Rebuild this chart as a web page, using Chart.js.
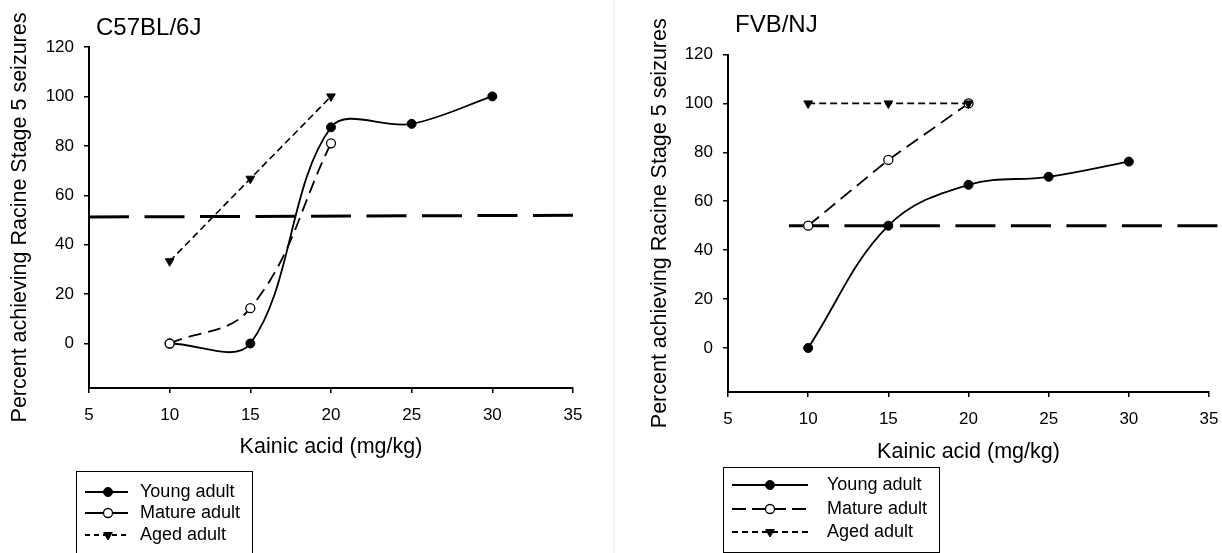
<!DOCTYPE html>
<html>
<head>
<meta charset="utf-8">
<script src="https://cdn.jsdelivr.net/npm/chart.js@4.4.1/dist/chart.umd.min.js"></script>
<style>
  html, body { margin: 0; padding: 0; background: #fff; }
  body { width: 1222px; height: 553px; position: relative; overflow: hidden; }
  #left { position: absolute; left: 0; top: 0; }
  #right { position: absolute; left: 615px; top: 0; }
  .sep { position: absolute; left: 613px; top: 0; width: 2px; height: 553px; background: #f2f2f2; }
</style>
</head>
<body>
<canvas id="left" width="610" height="553" style="width:610px;height:553px"></canvas>
<div class="sep"></div>
<canvas id="right" width="607" height="553" style="width:607px;height:553px"></canvas>
<script>
(() => {
  const FONT = '"Liberation Sans", Arial, Helvetica, sans-serif';

  // shared axes
  const doses = [10, 15, 20, 25, 30];
  const xTicks = [5, 10, 15, 20, 25, 30, 35];
  const yTicks = [0, 20, 40, 60, 80, 100, 120];
  const seriesNames = ["Young adult", "Mature adult", "Aged adult"];

  // C57BL/6J
  const b6Young = [0, 0, 87.5, 88.9, 100];
  const b6Mature = [0, 14.3, 81];
  const b6Aged = [33.3, 66.7, 100];
  const b6HalfX = [5, 35];
  const b6HalfY = [51.2, 51.9];

  // FVB/NJ
  const fvbYoung = [0, 50, 66.7, 70, 76.2];
  const fvbMature = [50, 76.9, 100];
  const fvbAged = [100, 100, 100];
  const fvbHalfX = [8.8, 36];
  const fvbHalfY = [50, 50];

  const pts = (xs, ys) => ys.map((y, i) => ({ x: xs[i], y }));

  Chart.defaults.font.family = FONT;
  Chart.defaults.color = "#000";

  const panelTitle = {
    id: "panelTitle",
    afterDraw(chart, args, o) {
      const { ctx, chartArea } = chart;
      ctx.save();
      ctx.font = `24px ${FONT}`;
      ctx.fillStyle = "#000";
      ctx.textBaseline = "alphabetic";
      ctx.fillText(o.text, chartArea.left + 7, o.y);
      ctx.restore();
    },
  };

  // boxed legend: line sample + marker + label, like the original figure
  const boxLegend = {
    id: "boxLegend",
    afterDraw(chart, args, o) {
      const { ctx } = chart;
      const [l, t, r, b] = o.box;
      ctx.save();
      ctx.strokeStyle = "#000";
      ctx.lineWidth = 1;
      ctx.strokeRect(l + 0.5, t + 0.5, r - l, b - t);
      o.items.forEach((it, i) => {
        const ds = chart.data.datasets[it.dataset];
        const y = o.rowsY[i];
        ctx.strokeStyle = "#000";
        ctx.lineWidth = 1.8;
        ctx.setLineDash(it.dash || []);
        ctx.beginPath();
        ctx.moveTo(o.lineX[0], y);
        ctx.lineTo(o.lineX[1], y);
        ctx.stroke();
        ctx.setLineDash([]);
        ctx.fillStyle = ds.pointBackgroundColor;
        ctx.strokeStyle = ds.pointBorderColor;
        ctx.lineWidth = ds.pointBorderWidth;
        Chart.helpers.drawPoint(ctx, {
          pointStyle: ds.pointStyle,
          radius: ds.pointRadius,
          rotation: ds.pointRotation || 0,
          borderWidth: ds.pointBorderWidth,
        }, o.markX, y);
        ctx.fillStyle = "#000";
        ctx.font = `18px ${FONT}`;
        ctx.textBaseline = "middle";
        ctx.fillText(ds.label, o.textX, y);
      });
      ctx.restore();
    },
  };

  function seriesSets(young, mature, aged, halfX, halfY, s) {
    return [
      {
        label: seriesNames[0],
        data: pts(doses, young),
        borderColor: "#000",
        borderWidth: 1.8,
        tension: s.youngTension,
        capBezierPoints: false,
        pointStyle: "circle",
        pointRadius: 4.5,
        pointBackgroundColor: "#000",
        pointBorderColor: "#000",
        pointBorderWidth: 1,
        order: 2,
      },
      {
        label: seriesNames[1],
        data: pts(doses, mature),
        borderColor: "#000",
        borderWidth: 1.8,
        borderDash: s.matureDash,
        tension: s.matureTension,
        pointStyle: "circle",
        pointRadius: 4.5,
        pointBackgroundColor: "#fff",
        pointBorderColor: "#000",
        pointBorderWidth: 1.3,
        order: 1,
      },
      {
        label: seriesNames[2],
        data: pts(doses, aged),
        borderColor: "#000",
        borderWidth: 1.6,
        borderDash: [7, 4],
        tension: 0,
        pointStyle: "triangle",
        pointRotation: 180,
        pointRadius: 5,
        pointBackgroundColor: "#000",
        pointBorderColor: "#000",
        pointBorderWidth: 1,
        order: 0,
      },
      {
        label: "50%",
        data: pts(halfX, halfY),
        borderColor: "#000",
        borderWidth: 3,
        borderDash: [40, 15.5],
        tension: 0,
        pointRadius: 0,
        clip: false,
        order: 5,
      },
    ];
  }

  function makePanel(id, datasets, p) {
    const el = document.getElementById(id);
    const W = el.width, H = el.height;
    return new Chart(el, {
      type: "line",
      data: { datasets },
      options: {
        responsive: false,
        animation: false,
        events: [],
        layout: {
          padding: { left: 0, top: p.area[1], right: W - p.area[2], bottom: H - p.xAxisBottom },
        },
        plugins: {
          legend: { display: false },
          tooltip: { enabled: false },
          panelTitle: { text: p.title, y: p.titleY },
          boxLegend: p.legend,
        },
        scales: {
          x: {
            type: "linear",
            min: 5,
            max: 35,
            afterBuildTicks: (s) => { s.ticks = xTicks.map(v => ({ value: v })); },
            afterFit: (s) => { s.height = p.xAxisBottom - p.area[3]; s.paddingLeft = 0; s.paddingRight = 0; },
            ticks: { autoSkip: false, maxRotation: 0, padding: 12, font: { size: 17 }, color: "#000" },
            grid: { display: true, drawOnChartArea: false, drawTicks: true, tickLength: 5, color: "#000", lineWidth: 1.5 },
            border: { display: true, color: "#000", width: 2 },
            title: { display: true, text: "Kainic acid (mg/kg)", font: { size: 21.5 }, color: "#000", padding: { top: 0, bottom: 0 } },
          },
          y: {
            type: "linear",
            min: -18,
            max: 120,
            afterBuildTicks: (s) => { s.ticks = yTicks.map(v => ({ value: v })); },
            afterFit: (s) => { s.width = p.area[0]; s.paddingTop = 0; s.paddingBottom = 0; },
            ticks: { padding: 10, font: { size: 17 }, color: "#000" },
            grid: { display: true, drawOnChartArea: false, drawTicks: true, tickLength: 5, color: "#000", lineWidth: 1.5 },
            border: { display: true, color: "#000", width: 2 },
            title: { display: true, text: "Percent achieving Racine Stage 5 seizures", font: { size: 21.5 }, color: "#000", padding: { top: p.yTitlePad, bottom: 0 } },
          },
        },
      },
      plugins: [panelTitle, boxLegend],
    });
  }

  makePanel("left",
    seriesSets(b6Young, b6Mature, b6Aged, b6HalfX, b6HalfY, { youngTension: 0.35, matureTension: 0.4, matureDash: [13, 7] }),
    {
      area: [89, 47, 573, 388],
      xAxisBottom: 460,
      yTitlePad: 7,
      title: "C57BL/6J",
      titleY: 35,
      legend: {
        box: [76, 471, 252, 580],
        rowsY: [492, 513, 535],
        lineX: [85, 128],
        markX: 108,
        textX: 140,
        items: [{ dataset: 0 }, { dataset: 1 }, { dataset: 2, dash: [5, 4] }],
      },
    });

  makePanel("right",
    seriesSets(fvbYoung, fvbMature, fvbAged, fvbHalfX, fvbHalfY, { youngTension: 0.38, matureTension: 0, matureDash: [14, 7] }),
    {
      area: [113, 54.5, 594, 392],
      xAxisBottom: 464.6,
      yTitlePad: 32,
      title: "FVB/NJ",
      titleY: 32,
      legend: {
        box: [108, 467, 324, 552],
        rowsY: [485, 509, 532],
        lineX: [117, 193],
        markX: 155,
        textX: 212,
        items: [{ dataset: 0 }, { dataset: 1, dash: [14, 6] }, { dataset: 2, dash: [6, 4] }],
      },
    });
})();
</script>
</body>
</html>
